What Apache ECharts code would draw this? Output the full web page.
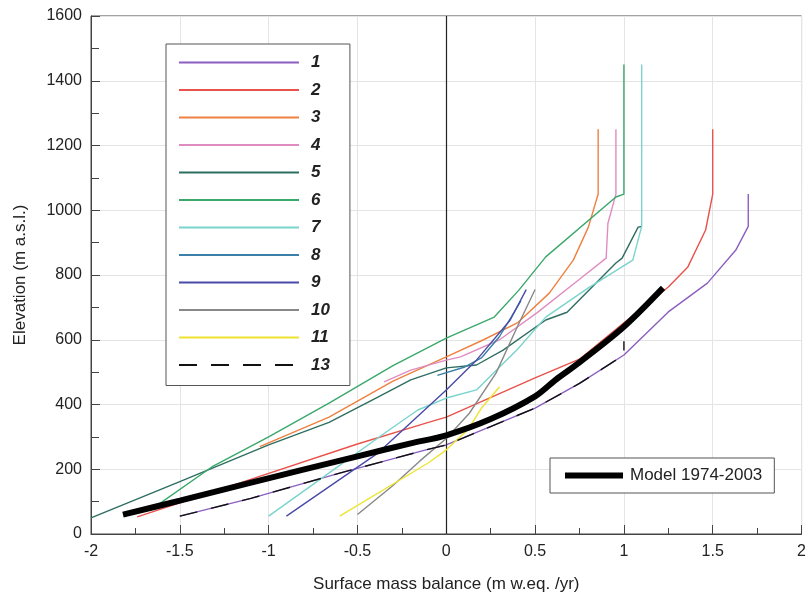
<!DOCTYPE html>
<html><head><meta charset="utf-8">
<script src="https://cdn.jsdelivr.net/npm/echarts@6/dist/echarts.min.js"></script>
<style>html,body{margin:0;padding:0;background:#fff}#c{width:809px;height:599px}</style>
</head><body><div id="c"></div>
<script>
// ---- data (x: surface mass balance m w.eq./yr, y: elevation m a.s.l.) ----
const xTicks = [-2, -1.5, -1, -0.5, 0, 0.5, 1, 1.5, 2];
const yTicks = [0, 200, 400, 600, 800, 1000, 1200, 1400, 1600];
const seriesNames = ['1','2','3','4','5','6','7','8','9','10','11','13'];
const s1 = [[-1.5,55],[-1.1,110],[-0.6,188],[-0.12,259],[0,275],[0.5,389],[0.75,465],[1.0,553],[1.25,686],[1.47,775],[1.63,877],[1.7,950],[1.7,1050]];
const s2 = [[-1.74,53],[-1.5,96],[-1.11,167],[-0.5,278],[-0.11,343],[0,361],[0.5,482],[0.75,540],[1.0,652],[1.25,763],[1.36,825],[1.46,939],[1.5,1050],[1.5,1250]];
const s3 = [[-1.05,270],[-0.66,361],[-0.3,472],[0,547],[0.21,600],[0.4,652],[0.58,744],[0.715,846],[0.8,948],[0.855,1050],[0.855,1250]];
const s4 = [[-0.35,470],[-0.2,506],[0,537],[0.08,547],[0.3,600],[0.51,683],[0.75,787],[0.9,852],[0.91,960],[0.955,1050],[0.955,1250]];
const s5 = [[-2,50],[-1.5,162],[-1.0,275],[-0.66,345],[-0.385,423],[-0.2,476],[0,513],[0.17,522],[0.32,568],[0.56,661],[0.68,685],[0.955,837],[0.99,852],[1.08,948],[1.1,950]];
const s6 = [[-1.65,80],[-1.32,207],[-1.0,300],[-0.66,404],[-0.3,520],[0,605],[0.27,670],[0.41,754],[0.56,856],[0.955,1041],[1.0,1050],[1.0,1450]];
const s7 = [[-1.0,55],[-0.74,157],[-0.33,318],[-0.16,383],[0,420],[0.17,445],[0.4,570],[0.56,670],[0.8,760],[1.05,846],[1.1,950],[1.1,1450]];
const s8 = [[-0.05,490],[0.1,515],[0.2,545],[0.3,610],[0.42,720]];
const s9 = [[-0.9,55],[-0.385,250],[0,445],[0.17,537],[0.36,661],[0.45,755]];
const s10 = [[-0.5,60],[-0.3,150],[-0.15,225],[0,295],[0.13,373],[0.28,497],[0.4,640],[0.5,755]];
const s11 = [[-0.6,55],[-0.1,220],[0,260],[0.12,321],[0.2,390],[0.3,455]];
const s13 = [[-1.5,55],[-1.1,110],[-0.6,188],[-0.12,259],[0,275],[0.5,389],[0.75,465],[1.0,553],[1.0,595]];
const model = [[-1.82,60],[-1.5,103],[-1.11,157],[-0.5,240],[-0.2,280],[0,305],[0.25,355],[0.5,425],[0.62,478],[0.75,530],[1.0,640],[1.22,760]];
const modelName = 'Model 1974-2003';

const lineData = [s1,s2,s3,s4,s5,s6,s7,s8,s9,s10,s11,s13];
const colors = ['#8b5fbf','#e8524a','#ee8040','#e08cc0','#2e6e62','#3aa86a','#78d4cc','#3a80a8','#4a4aa8','#888888','#eee430','#111111'];

const FONT = 'Liberation Sans, Arial, sans-serif';
const series = lineData.map((d,i)=>({
  name: seriesNames[i], type:'line', data:d, symbol:'none', silent:true,
  lineStyle:{color:colors[i], width:1.4, type: seriesNames[i]==='13' ? [18,14] : 'solid'},
  itemStyle:{color:colors[i]}, z: 3 + i
}));
series.push({
  name: modelName, type:'line', data:model, symbol:'none', silent:true, smooth:0.3,
  lineStyle:{color:'#000', width:6}, itemStyle:{color:'#000'}, z:20
});
series.push({
  name:'zero', type:'line', data:[], symbol:'none', silent:true,
  markLine:{symbol:'none', silent:true, label:{show:false},
    lineStyle:{color:'#222', width:1.2, type:'solid'}, data:[{xAxis:0}]}, z:2
});

const chart = echarts.init(document.getElementById('c'), null, {renderer:'canvas'});
chart.setOption({
  animation:false,
  backgroundColor:'#fff',
  grid:{left:91, right:2, top:16, bottom:65, show:true, borderColor:'#444', borderWidth:1},
  xAxis:{type:'value', min:xTicks[0], max:xTicks[xTicks.length-1], interval:0.5,
    name:'Surface mass balance (m w.eq. /yr)', nameLocation:'middle', nameGap:42,
    nameTextStyle:{fontFamily:FONT, fontSize:17, color:'#222'},
    axisLine:{onZero:false, lineStyle:{color:'#444'}},
    axisTick:{inside:true, length:9, lineStyle:{color:'#444'}},
    minorTick:{show:true, splitNumber:2, length:6, lineStyle:{color:'#444'}},
    axisLabel:{fontFamily:FONT, fontSize:16, color:'#222', margin:10},
    splitLine:{show:true, lineStyle:{color:'#e4e4e4'}}},
  yAxis:{type:'value', min:yTicks[0], max:yTicks[yTicks.length-1], interval:200,
    name:'Elevation (m a.s.l.)', nameLocation:'middle', nameGap:62,
    nameTextStyle:{fontFamily:FONT, fontSize:17, color:'#222'},
    axisLine:{show:true, onZero:false, lineStyle:{color:'#444'}},
    axisTick:{show:true, inside:true, length:9, lineStyle:{color:'#444'}},
    minorTick:{show:true, splitNumber:2, length:8, lineStyle:{color:'#444'}},
    axisLabel:{fontFamily:FONT, fontSize:16, color:'#222', margin:9, formatter:v=>String(v)},
    splitLine:{show:true, lineStyle:{color:'#e4e4e4'}}},
  legend:[{
    data:seriesNames, orient:'vertical', left:166, top:44,
    itemWidth:120, itemHeight:14, itemGap:10.5, itemStyle:{opacity:0},
    padding:[10,20,12,12], borderColor:'#555', borderWidth:1, backgroundColor:'#fff',
    textStyle:{fontFamily:FONT, fontSize:17, fontWeight:'bold', fontStyle:'italic', color:'#222', padding:[0,0,0,7]},
    selectedMode:false
  },{
    data:[modelName], orient:'horizontal', left:550, top:458,
    itemWidth:58, itemHeight:14, itemStyle:{opacity:0},
    lineStyle:{width:6, color:'#000'},
    padding:[9,12,9,12], borderColor:'#555', borderWidth:1, backgroundColor:'#fff',
    textStyle:{fontFamily:FONT, fontSize:17, color:'#222', padding:[0,0,0,2]},
    selectedMode:false
  }],
  series
});
</script></body></html>
